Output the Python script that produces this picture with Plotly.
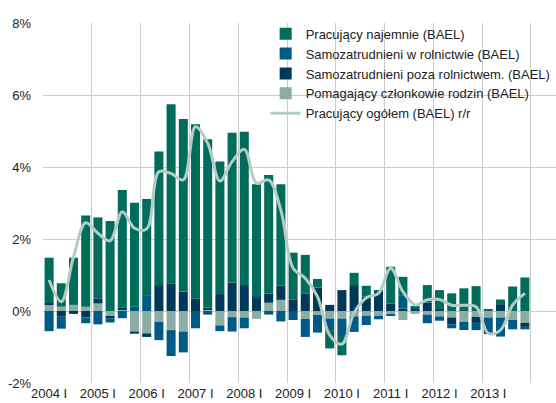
import plotly.graph_objects as go

quarters = list(range(1, 41))
tick_pos = [1, 5, 9, 13, 17, 21, 25, 29, 33, 37]
tick_text = ["2004 I", "2005 I", "2006 I", "2007 I", "2008 I",
             "2009 I", "2010 I", "2011 I", "2012 I", "2013 I"]
y_tick_vals = [-2, 0, 2, 4, 6, 8]
y_tick_text = ["-2%", "0%", "2%", "4%", "6%", "8%"]

# Pomagający członkowie rodzin (BAEL)
pomagajacy = [0.17, 0.12, 0.17, 0.12, 0.21, -0.16, 0.05, -0.57, -0.62, -0.30,
              -0.53, -0.57, 0.00, 0.04, -0.40, -0.17, -0.18, -0.22, 0.23, 0.31,
              0.00, -0.22, -0.11, -0.21, -0.21, -0.15, -0.13, -0.13, -0.08, -0.25,
              -0.08, -0.10, -0.15, -0.18, -0.30, -0.16, -0.18, -0.18, -0.25, -0.33]
# Samozatrudnieni poza rolnictwem (BAEL)
poza_rolnictwem = [0.05, -0.16, -0.08, -0.18, 0.14, -0.04, 0.05, -0.06, -0.10, 0.72,
                   0.77, 0.54, 0.35, 0.05, 0.47, 0.79, 0.72, 0.36, 0.26, 0.39,
                   0.31, 0.49, 0.65, 0.17, 0.58, 0.72, 0.40, 0.54, 0.21, 0.07,
                   0.04, 0.23, 0.04, -0.20, 0.00, -0.17, 0.00, 0.19, 0.00, -0.11]
# Samozatrudnieni w rolnictwie (BAEL)
w_rolnictwie = [-0.56, -0.33, 0.00, -0.16, -0.37, -0.12, -0.20, 0.12, 0.44, -0.51,
                -0.72, -0.58, -0.48, -0.10, -0.16, -0.40, -0.30, 0.06, -0.10, -0.29,
                -0.25, -0.50, -0.49, -0.32, -0.51, -0.43, -0.26, -0.10, -0.06, 0.35,
                0.06, -0.24, -0.12, -0.10, -0.23, -0.20, -0.46, -0.53, -0.26, -0.07]
# Pracujący najemnie (BAEL)
najemnie = [1.26, 0.65, 1.31, 2.53, 2.25, 2.50, 3.26, 2.89, 2.67, 3.71,
            4.97, 4.79, 4.84, 4.68, 3.68, 4.16, 4.26, 3.10, 3.29, 2.82,
            1.31, 1.07, 0.24, -0.51, -0.51, 0.34, 0.30, 0.02, 1.02, 0.53,
            0.04, 0.49, 0.54, 0.49, 0.63, 0.69, 0.05, 0.13, 0.68, 0.93]
# Pracujący ogółem (BAEL) r/r
ogolem = [0.86, 0.26, 1.50, 2.45, 2.16, 1.95, 2.76, 2.30, 2.28, 3.87,
          3.82, 3.64, 5.12, 4.66, 3.61, 4.15, 4.49, 3.55, 3.64, 2.80,
          1.19, 0.91, 0.40, -0.67, -0.92, -0.05, 0.37, 0.49, 1.19, 0.54,
          0.17, 0.31, 0.32, 0.16, 0.16, 0.12, -0.62, -0.53, 0.17, 0.49]

C_TEAL = "#006d5c"
C_BLUE = "#005a86"
C_NAVY = "#00385a"
C_LIGHT = "#8cada3"
C_LINE = "#b5ccc4"

FONT = "Liberation Sans, Arial, sans-serif"

fig = go.Figure()
fig.add_trace(go.Bar(x=quarters, y=pomagajacy, name="Pomagający członkowie rodzin (BAEL)",
                     marker=dict(color=C_LIGHT, line=dict(width=0)), legendrank=4))
fig.add_trace(go.Bar(x=quarters, y=poza_rolnictwem, name="Samozatrudnieni poza rolnictwem. (BAEL)",
                     marker=dict(color=C_NAVY, line=dict(width=0)), legendrank=3))
fig.add_trace(go.Bar(x=quarters, y=w_rolnictwie, name="Samozatrudnieni w rolnictwie (BAEL)",
                     marker=dict(color=C_BLUE, line=dict(width=0)), legendrank=2))
fig.add_trace(go.Bar(x=quarters, y=najemnie, name="Pracujący najemnie (BAEL)",
                     marker=dict(color=C_TEAL, line=dict(width=0)), legendrank=1))
fig.add_trace(go.Scatter(x=quarters, y=ogolem, name="Pracujący ogółem (BAEL) r/r",
                         mode="lines", line=dict(color=C_LINE, width=3, shape="spline", smoothing=1),
                         legendrank=5))

fig.update_layout(
    width=556, height=403,
    margin=dict(l=43, r=0, t=23, b=20, autoexpand=False),
    paper_bgcolor="white", plot_bgcolor="white",
    barmode="relative", bargap=0.26,
    font=dict(family=FONT, size=13, color="#333333"),
    showlegend=True,
    legend=dict(x=0.434, y=1.012, xanchor="left", yanchor="top",
                bgcolor="rgba(0,0,0,0)", borderwidth=0,
                font=dict(family=FONT, size=13, color="#222222"),
                tracegroupgap=0, itemwidth=30),
)
fig.update_xaxes(
    range=[0.5, 42.55], automargin=False,
    tickmode="array", tickvals=tick_pos, ticktext=tick_text,
    showgrid=False, zeroline=False, showline=False, ticks="",
    ticklabelstandoff=1,
    minor=dict(tickmode="linear", tick0=0.5, dtick=4, showgrid=True,
               gridcolor="#cccccc", gridwidth=1, ticks=""),
    tickfont=dict(size=13, color="#222222"),
)
fig.update_yaxes(
    range=[-2, 8], automargin=False, tickmode="array",
    tickvals=y_tick_vals, ticktext=y_tick_text,
    showgrid=True, gridcolor="#cccccc", gridwidth=1,
    zeroline=False, showline=False, ticks="", ticklabelstandoff=11,
    tickfont=dict(size=13, color="#222222"),
)

fig.write_html("out.html", config={"displayModeBar": False},
               post_script="document.body.style.margin='0';document.body.style.padding='0';")
